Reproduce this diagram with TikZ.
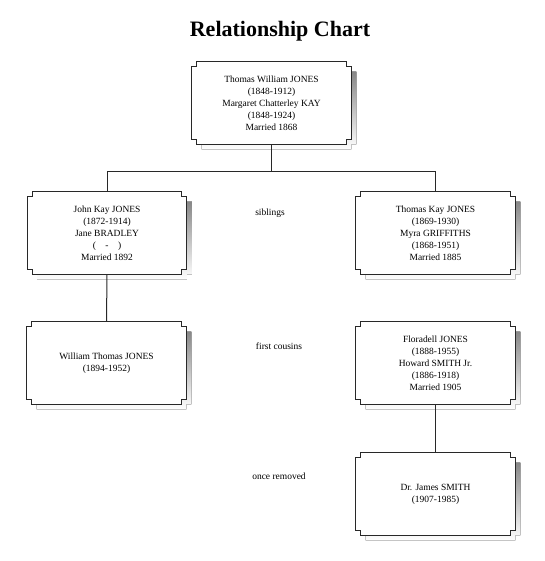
\documentclass[tikz,border=0pt]{standalone}
\usepackage{fontspec}
\setmainfont{Liberation Serif}
\usetikzlibrary{calc,backgrounds}
\definecolor{shade}{RGB}{185,185,185}
\definecolor{ink}{RGB}{40,40,40}
\newcommand\notchbox[1]{%
  \fill[shade] ($(#1.north west)+(10,5)$) -- ($(#1.north east)+(0,5)$) -- ++(0,5) -- ++(5,0) -- ($(#1.south east)+(5,0)$) -- ++(-5,0) -- ++(0,5) -- ($(#1.south west)+(10,5)$) -- ++(0,-5) -- ++(-5,0) -- ($(#1.north west)+(5,10)$) -- ++(5,0) -- cycle;
  \filldraw[fill=white,draw=ink,line width=0.75pt] ($(#1.north west)+(5,0)$) -- ($(#1.north east)+(-5,0)$) -- ++(0,5) -- ++(5,0) -- ($(#1.south east)+(0,-5)$) -- ++(-5,0) -- ++(0,5) -- ($(#1.south west)+(5,0)$) -- ++(0,-5) -- ++(-5,0) -- ($(#1.north west)+(0,5)$) -- ++(5,0) -- cycle;}
\begin{document}
\begin{tikzpicture}[x=0.75pt,y=-0.75pt,
  box/.style={minimum width=119.25pt, minimum height=61.5pt, inner sep=0pt, align=center, font=\fontsize{7.1}{9}\selectfont},
  lbl/.style={font=\fontsize{7.1}{9}\selectfont, inner sep=0pt},
  conn/.style={draw=ink, line width=0.75pt}]
\useasboundingbox (0,0) rectangle (544,561);
\node[font=\bfseries\fontsize{16.5}{20}\selectfont, inner sep=0pt] (title) at (280,31) {Relationship Chart};
\node[box] (top) at (271.5,103) {Thomas William JONES\\(1848-1912)\\Margaret Chatterley KAY\\(1848-1924)\\Married 1868};
\node[box] (jk) at (107,233) {John Kay JONES\\(1872-1914)\\Jane BRADLEY\\(\quad-\quad)\\Married 1892};
\node[box] (tk) at (435.5,233) {Thomas Kay JONES\\(1869-1930)\\Myra GRIFFITHS\\(1868-1951)\\Married 1885};
\node[box] (wt) at (106.5,363) {William Thomas JONES\\(1894-1952)};
\node[box] (fj) at (435.5,363) {Floradell JONES\\(1888-1955)\\Howard SMITH Jr.\\(1886-1918)\\Married 1905};
\node[box] (js) at (435.5,494) {Dr. James SMITH\\(1907-1985)};
\node[lbl] (sib) at (270,213) {siblings};
\node[lbl] (fc) at (279,346) {first cousins};
\node[lbl] (or) at (279,476) {once removed};
\begin{scope}[on background layer]
\notchbox{top}
\notchbox{jk}
\notchbox{tk}
\notchbox{wt}
\notchbox{fj}
\notchbox{js}
\end{scope}
\coordinate (junc) at ($(top.south)+(0,27)$);
\draw[conn] (top.south) -- (junc);
\draw[conn] (jk.north) |- (junc) -| (tk.north);
\draw[conn] (jk.south) -- (wt.north);
\draw[conn] (fj.south) -- (js.north);
\end{tikzpicture}
\end{document}
